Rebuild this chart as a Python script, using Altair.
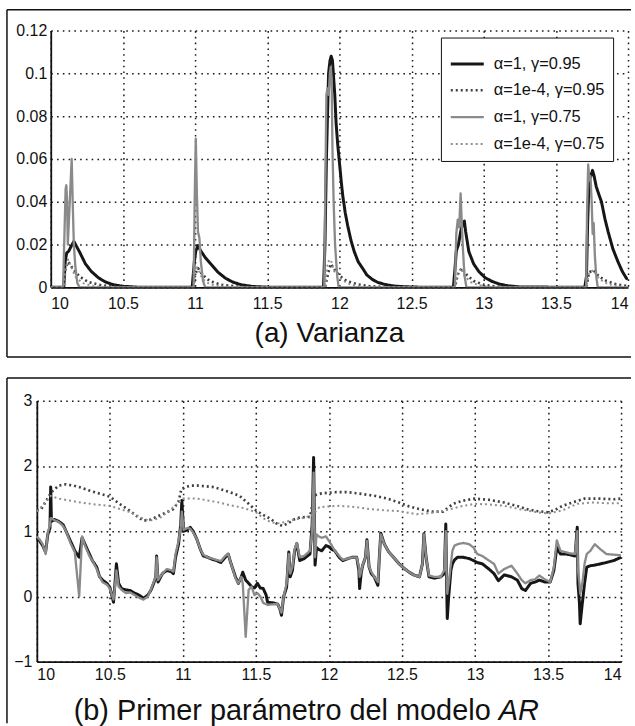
import altair as alt
import pandas as pd

SERIES = ["α=1, γ=0.95", "α=1e-4, γ=0.95", "α=1, γ=0.75", "α=1e-4, γ=0.75"]
COLORS = ["#161616", "#404040", "#8a8a8a", "#8f8f8f"]
DASHES = [[1, 0], [2, 3], [1, 0], [2, 3]]
WIDTHS = [3.0, 2.0, 3.6, 2.0]

X_TICKS = [10, 10.5, 11, 11.5, 12, 12.5, 13, 13.5, 14]
VAR_TICKS = [0, 0.02, 0.04, 0.06, 0.08, 0.1, 0.12]
AR_TICKS = [-1, 0, 1, 2, 3]

TITLE_A = "(a) Varianza"
TITLE_B = "(b) Primer parámetro del modelo"
TITLE_B_IT = "AR"

# ---------- (a) Varianza ----------
var_a_x = [10.0, 10.09, 10.1, 10.11, 10.125, 10.14, 10.16, 10.18, 10.2, 10.24, 10.28, 10.33, 10.38, 10.43, 10.5, 10.6,
           10.98, 10.995, 11.005, 11.02, 11.04, 11.07, 11.115, 11.16, 11.21, 11.26, 11.32, 11.4, 11.5,
           11.89, 11.9, 11.91, 11.925, 11.935, 11.943, 11.952, 11.96, 11.968, 11.977, 11.988, 12.0, 12.012, 12.023,
           12.04, 12.057, 12.08, 12.103, 12.13, 12.16, 12.19, 12.23, 12.27, 12.32, 12.38, 12.45, 12.55,
           12.79, 12.8, 12.81, 12.825, 12.84, 12.855, 12.866, 12.875, 12.897, 12.93, 12.966, 13.01, 13.057, 13.11,
           13.17, 13.25, 13.7, 13.712, 13.72, 13.73, 13.742, 13.754, 13.765, 13.78, 13.8, 13.816, 13.84, 13.862,
           13.895, 13.93, 13.96, 13.988, 14.0]
var_a_y = [0, 0, 0.012, 0.016, 0.017, 0.019, 0.0215, 0.019, 0.0165, 0.011, 0.0075, 0.0045, 0.0025, 0.0013, 0.0005, 0.0001,
           0, 0.012, 0.017, 0.0195, 0.017, 0.014, 0.0105, 0.007, 0.0043, 0.0025, 0.0012, 0.0004, 0.0001,
           0, 0.02, 0.06, 0.1, 0.106, 0.108, 0.106, 0.098, 0.09, 0.077, 0.067, 0.0586, 0.05, 0.043,
           0.035, 0.029, 0.022, 0.0167, 0.012, 0.009, 0.0058, 0.0036, 0.0022, 0.0013, 0.0006, 0.0003, 0.0001,
           0, 0.008, 0.017, 0.02, 0.026, 0.03, 0.031, 0.026, 0.0167, 0.011, 0.0074, 0.0045, 0.0028, 0.0015,
           0.0007, 0.0002, 0, 0.005, 0.03, 0.05, 0.052, 0.0547, 0.052, 0.047, 0.043, 0.04, 0.032, 0.026,
           0.018, 0.012, 0.0075, 0.0043, 0.0038]

var_b_x = [10.0, 10.09, 10.1, 10.12, 10.15, 10.2, 10.26, 10.35, 10.45, 10.55,
           10.99, 11.0, 11.02, 11.05, 11.1, 11.18, 11.3, 11.4,
           11.9, 11.92, 11.94, 11.97, 12.0, 12.05, 12.12, 12.2, 12.3, 12.4,
           12.8, 12.82, 12.85, 12.88, 12.93, 13.0, 13.1, 13.2,
           13.71, 13.73, 13.76, 13.8, 13.85, 13.92, 14.0]
var_b_y = [0, 0, 0.008, 0.012, 0.009, 0.005, 0.0025, 0.001, 0.0003, 0,
           0, 0.006, 0.009, 0.006, 0.003, 0.0012, 0.0003, 0,
           0, 0.006, 0.011, 0.008, 0.0055, 0.003, 0.0015, 0.0006, 0.0002, 0,
           0, 0.006, 0.009, 0.006, 0.003, 0.0012, 0.0003, 0,
           0, 0.007, 0.008, 0.005, 0.003, 0.0014, 0.0006]

var_c_x = [10.0, 10.085, 10.095, 10.103, 10.108, 10.113, 10.118, 10.125, 10.135, 10.145, 10.152, 10.16, 10.17, 10.184, 10.2,
           10.99, 10.997, 11.005, 11.012, 11.02, 11.03, 11.04, 11.055, 11.07,
           11.895, 11.903, 11.91, 11.918, 11.926, 11.934, 11.94, 11.946, 11.952, 11.96, 11.97, 11.985, 11.995,
           12.8, 12.81, 12.82, 12.83, 12.84, 12.848, 12.856, 12.866, 12.88,
           13.71, 13.716, 13.724, 13.732, 13.74, 13.748, 13.755, 13.762, 13.77, 13.78, 13.79, 14.0]
var_c_y = [0, 0, 0.025, 0.046, 0.0477, 0.04, 0.02, 0.03, 0.045, 0.06, 0.04, 0.02, 0.01, 0.002, 0,
           0, 0.04, 0.0695, 0.045, 0.026, 0.023, 0.012, 0.003, 0,
           0, 0.05, 0.09, 0.093, 0.09, 0.1, 0.103, 0.098, 0.065, 0.04, 0.02, 0.005, 0,
           0, 0.025, 0.0316, 0.028, 0.0439, 0.03, 0.018, 0.006, 0,
           0, 0.035, 0.0574, 0.05, 0.052, 0.04, 0.025, 0.03, 0.015, 0.005, 0, 0]

var_d_x = [10.0, 10.09, 10.1, 10.12, 10.14, 10.17, 10.22, 10.3, 10.4,
           10.99, 11.0, 11.02, 11.05, 11.1, 11.2, 11.3,
           11.9, 11.92, 11.94, 11.96, 11.99, 12.03, 12.08, 12.15, 12.25,
           12.8, 12.82, 12.84, 12.87, 12.92, 13.0, 13.1,
           13.71, 13.73, 13.76, 13.8, 13.86, 13.95, 14.0]
var_d_y = [0, 0, 0.008, 0.013, 0.01, 0.005, 0.002, 0.0005, 0,
           0, 0.01, 0.009, 0.004, 0.0015, 0.0003, 0,
           0, 0.012, 0.013, 0.008, 0.005, 0.003, 0.0012, 0.0003, 0,
           0, 0.006, 0.009, 0.005, 0.002, 0.0005, 0,
           0, 0.007, 0.008, 0.004, 0.0015, 0.0004, 0]

# ---------- (b) Primer parámetro AR ----------
ar_a_x = [10.0, 10.02, 10.04, 10.06, 10.075, 10.09, 10.095, 10.1, 10.12, 10.15, 10.18, 10.2, 10.23, 10.26, 10.29,
          10.31, 10.33, 10.36, 10.38, 10.41, 10.43, 10.45, 10.48, 10.5, 10.525, 10.535, 10.545, 10.56, 10.58,
          10.61, 10.64, 10.67, 10.7, 10.73, 10.76, 10.78, 10.8, 10.815, 10.82, 10.83, 10.86, 10.89, 10.92,
          10.935, 10.95, 10.97, 10.985, 10.993, 11.005, 11.03, 11.05, 11.07, 11.095, 11.12, 11.14, 11.17,
          11.2, 11.23, 11.26, 11.29, 11.31, 11.33, 11.36, 11.38, 11.4, 11.41, 11.43, 11.45, 11.47, 11.49,
          11.51, 11.53, 11.55, 11.57, 11.58, 11.62, 11.65, 11.665, 11.675, 11.69, 11.71, 11.725, 11.735,
          11.75, 11.765, 11.78, 11.8, 11.83, 11.87, 11.885, 11.895, 11.905, 11.915, 11.93, 11.95, 11.98,
          12.0, 12.02, 12.04, 12.07, 12.095, 12.13, 12.16, 12.19, 12.205, 12.21, 12.22, 12.23, 12.25, 12.26,
          12.275, 12.29, 12.31, 12.335, 12.345, 12.355, 12.38, 12.41, 12.45, 12.48, 12.52, 12.55, 12.58,
          12.62, 12.64, 12.65, 12.665, 12.685, 12.72, 12.765, 12.79, 12.8, 12.805, 12.81, 12.82, 12.835,
          12.845, 12.86, 12.88, 12.92, 12.96, 12.99, 13.015, 13.05, 13.095, 13.13, 13.16, 13.2, 13.25, 13.29,
          13.32, 13.345, 13.38, 13.41, 13.44, 13.48, 13.515, 13.54, 13.56, 13.585, 13.62, 13.65, 13.685,
          13.7, 13.705, 13.715, 13.72, 13.735, 13.75, 13.765, 13.79, 13.82, 13.86, 13.9, 13.95, 14.0]
ar_a_y = [0.9, 0.85, 0.78, 0.68, 0.95, 1.05, 1.68, 1.15, 1.18, 1.15, 1.1, 1.0, 0.85, 0.7, 0.6,
          0.9, 0.8, 0.65, 0.55, 0.45, 0.3, 0.25, 0.2, 0.14, -0.09, 0.2, 0.5, 0.2, 0.12,
          0.1, 0.09, 0.05, 0.02, -0.03, 0.02, 0.09, 0.2, 0.3, 0.62, 0.22, 0.35, 0.4, 0.38,
          0.35, 0.6, 0.8, 1.1, 1.47, 1.0, 1.02, 1.06, 1.0, 0.88, 0.72, 0.62, 0.6,
          0.57, 0.55, 0.52, 0.6, 0.65, 0.5, 0.3, 0.2, 0.3, 0.37, 0.25, 0.2, 0.15, 0.13,
          0.2, 0.13, 0.12, 0.02, -0.09, -0.1, -0.12, -0.2, -0.29, 0.0, 0.14, 0.68, 0.3,
          0.4, 0.7, 0.81, 0.55, 0.58, 0.65, 1.1, 2.13, 0.48, 0.75, 0.72, 0.7, 0.78,
          0.76, 0.72, 0.7, 0.6, 0.55, 0.58, 0.6, 0.6, 0.4, 0.12, 0.35, 0.47, 0.6, 0.87,
          0.45, 0.35, 0.3, 0.17, 0.6, 0.97, 0.8, 0.68, 0.58, 0.5, 0.42, 0.37, 0.33,
          0.3, 0.5, 0.96, 0.6, 0.3, 0.28, 0.3, 0.35, 1.11, 0.3, -0.34, 0.0, 0.4,
          0.5, 0.56, 0.6, 0.6, 0.58, 0.55, 0.52, 0.5, 0.42, 0.35, 0.24, 0.33, 0.3, 0.25,
          0.12, 0.09, 0.2, 0.22, 0.25, 0.22, 0.22, 0.4, 0.75, 0.65, 0.65, 0.64, 0.62,
          1.06, 0.2, -0.1, -0.42, -0.1, 0.2, 0.45, 0.47, 0.48, 0.5, 0.52, 0.55, 0.6]

ar_b_x = [10.0, 10.03, 10.06, 10.1, 10.15, 10.2, 10.25, 10.3, 10.35, 10.41, 10.5, 10.56, 10.62, 10.68, 10.73,
          10.78, 10.82, 10.88, 10.935, 10.97, 10.99, 11.05, 11.1, 11.2, 11.25, 11.32, 11.39, 11.45, 11.5,
          11.55, 11.6, 11.64, 11.68, 11.72, 11.76, 11.8, 11.87, 11.9, 11.95, 12.05, 12.12, 12.2, 12.32,
          12.4, 12.48, 12.55, 12.62, 12.7, 12.78, 12.85, 12.92, 13.0, 13.1, 13.2, 13.3, 13.35, 13.42,
          13.5, 13.55, 13.6, 13.68, 13.75, 13.85, 13.95, 14.0]
ar_b_y = [1.32, 1.34, 1.45, 1.6, 1.7, 1.72, 1.7, 1.67, 1.63, 1.59, 1.53, 1.43, 1.34, 1.24, 1.16,
          1.18, 1.22, 1.28, 1.34, 1.45, 1.65, 1.7, 1.7, 1.68, 1.65, 1.6, 1.54, 1.42, 1.32,
          1.25, 1.19, 1.12, 1.08, 1.12, 1.18, 1.21, 1.22, 1.55, 1.58, 1.6, 1.6, 1.58, 1.54,
          1.5, 1.44, 1.38, 1.34, 1.3, 1.3, 1.42, 1.47, 1.5, 1.48, 1.44, 1.38, 1.34, 1.31,
          1.29, 1.33, 1.39, 1.45, 1.5, 1.5, 1.49, 1.5]

ar_c_x = ar_a_x
ar_c_y = [0.92, 0.87, 0.8, 0.65, 0.98, 1.1, 1.2, 1.2, 1.17, 1.14, 1.08, 1.0, 0.82, 0.68, 0.0,
          0.92, 0.78, 0.62, 0.55, 0.42, 0.3, 0.22, 0.18, 0.12, -0.05, 0.15, 0.4, 0.15, 0.1,
          0.05, 0.06, 0.02, -0.02, -0.05, 0.0, 0.1, 0.22, 0.3, 0.6, 0.25, 0.35, 0.42, 0.4,
          0.38, 0.65, 0.85, 1.05, 1.3, 1.02, 1.05, 1.04, 0.98, 0.88, 0.72, 0.64, 0.6,
          0.58, 0.56, 0.54, 0.62, 0.65, 0.5, 0.28, 0.2, 0.3, 0.2, -0.62, 0.1, 0.15, 0.02,
          0.05, 0.0, -0.1, -0.12, -0.13, -0.12, -0.12, -0.2, -0.25, 0.0, 0.2, 0.65, 0.35,
          0.45, 0.72, 0.82, 0.6, 0.62, 0.7, 1.0, 1.9, 0.6, 0.95, 0.92, 0.9, 0.92,
          0.85, 0.78, 0.7, 0.62, 0.56, 0.58, 0.6, 0.6, 0.45, 0.3, 0.38, 0.48, 0.6, 0.85,
          0.45, 0.38, 0.3, 0.22, 0.6, 0.95, 0.8, 0.68, 0.58, 0.5, 0.42, 0.37, 0.33,
          0.3, 0.5, 0.95, 0.6, 0.32, 0.3, 0.3, 0.4, 1.0, 0.4, 0.04, 0.2, 0.5,
          0.7, 0.78, 0.8, 0.82, 0.8, 0.75, 0.65, 0.62, 0.55, 0.5, 0.35, 0.42, 0.47, 0.35,
          0.25, 0.2, 0.25, 0.26, 0.32, 0.26, 0.22, 0.45, 0.86, 0.7, 0.68, 0.66, 0.65,
          1.0, 0.4, 0.2, 0.04, 0.2, 0.5, 0.65, 0.7, 0.8, 0.72, 0.65, 0.64, 0.63]

ar_d_x = [10.0, 10.05, 10.095, 10.15, 10.2, 10.3, 10.4, 10.5, 10.57, 10.64, 10.7, 10.77, 10.84, 10.9, 10.95,
          11.0, 11.1, 11.2, 11.25, 11.32, 11.39, 11.45, 11.5, 11.55, 11.6, 11.65, 11.7, 11.77, 11.84, 11.89,
          11.935, 12.0, 12.07, 12.18, 12.28, 12.38, 12.48, 12.6, 12.7, 12.8, 12.9, 13.0, 13.1, 13.2, 13.3,
          13.4, 13.5, 13.6, 13.7, 13.8, 13.9, 14.0]
ar_d_y = [1.3, 1.42, 1.54, 1.5, 1.48, 1.44, 1.41, 1.39, 1.34, 1.29, 1.22, 1.16, 1.2, 1.3, 1.4,
          1.5, 1.5, 1.46, 1.44, 1.4, 1.37, 1.33, 1.29, 1.2, 1.14, 1.12, 1.14, 1.18, 1.21, 1.25,
          1.37, 1.38, 1.39, 1.37, 1.34, 1.32, 1.31, 1.26, 1.28, 1.32, 1.38, 1.42, 1.41, 1.39, 1.34,
          1.3, 1.27, 1.32, 1.42, 1.44, 1.43, 1.43]

FONT = "Liberation Sans"


def frame(xs, ys, name):
    return pd.DataFrame({"t": xs, "v": ys, "serie": name})


var_frames = [frame(var_a_x, var_a_y, SERIES[0]), frame(var_b_x, var_b_y, SERIES[1]),
              frame(var_c_x, var_c_y, SERIES[2]), frame(var_d_x, var_d_y, SERIES[3])]
ar_frames = [frame(ar_a_x, ar_a_y, SERIES[0]), frame(ar_b_x, ar_b_y, SERIES[1]),
             frame(ar_c_x, ar_c_y, SERIES[2]), frame(ar_d_x, ar_d_y, SERIES[3])]

axis_common = dict(
    grid=True, gridColor="#1a1a1a", gridDash=[1.6, 4.2], gridWidth=1.5, gridOpacity=1,
    ticks=False, domainColor="#111111", domainWidth=1.8,
    labelFont=FONT, labelFontSize=16, labelColor="#111111", title=None,
)

legend_top = alt.Legend(
    orient="none", legendX=392, legendY=7, title=None, symbolType="stroke", symbolSize=1100,
    labelFont=FONT, labelFontSize=16.5, labelColor="#111111", padding=8, labelOffset=8,
    strokeColor="#111111", fillColor="white", rowPadding=0,
)


def enc_channels(legend):
    kw = {"legend": legend}
    return dict(
        color=alt.Color("serie:N", scale=alt.Scale(domain=SERIES, range=COLORS), **kw),
        strokeDash=alt.StrokeDash("serie:N", scale=alt.Scale(domain=SERIES, range=DASHES), **kw),
        strokeWidth=alt.StrokeWidth("serie:N", scale=alt.Scale(domain=SERIES, range=WIDTHS), **kw),
    )


def one_row(**cols):
    return pd.DataFrame({k: [v] for k, v in cols.items()})


# ----- top panel -----
x_top = alt.X("t:Q", scale=alt.Scale(domain=[10, 14], nice=False, zero=False),
              axis=alt.Axis(values=X_TICKS, format="~g", labelPadding=8, **axis_common))
y_top = alt.Y("v:Q", scale=alt.Scale(domain=[0, 0.12], nice=False, zero=False),
              axis=alt.Axis(values=VAR_TICKS, format=".2~f", labelPadding=4, **axis_common))

top_layers = []
for df in var_frames:
    top_layers.append(
        alt.Chart(df).mark_line(strokeJoin="round", clip=True).encode(
            x=x_top, y=y_top, **enc_channels(legend_top)
        )
    )

box_top = [
    alt.Chart(one_row(k=1)).mark_rule(color="#111111", strokeWidth=1.5).encode(
        x=alt.value(-44), y=alt.value(-21), y2=alt.value(328)),
    alt.Chart(one_row(k=1)).mark_rule(color="#111111", strokeWidth=1.5).encode(
        x=alt.value(-44), x2=alt.value(583), y=alt.value(-21)),
    alt.Chart(one_row(k=1)).mark_rule(color="#111111", strokeWidth=1.5).encode(
        x=alt.value(-44), x2=alt.value(583), y=alt.value(328)),
]
title_top = alt.Chart(one_row(txt=TITLE_A)).mark_text(
    font=FONT, fontSize=28, color="#111111", align="center", baseline="middle"
).encode(text="txt:N", x=alt.value(280), y=alt.value(305))

top = alt.layer(*top_layers, *box_top, title_top).properties(width=580, height=258)

# ----- bottom panel -----
x_bot = alt.X("t:Q", scale=alt.Scale(domain=[10, 14], nice=False, zero=False, range=[-14, 573]),
              axis=alt.Axis(values=X_TICKS, format="~g", labelPadding=5, **axis_common))
y_bot = alt.Y("v:Q", scale=alt.Scale(domain=[-1, 3], nice=False, zero=False),
              axis=alt.Axis(values=AR_TICKS, format="~g", labelPadding=5, offset=14, **axis_common))

bot_layers = []
for df in ar_frames:
    bot_layers.append(
        alt.Chart(df).mark_line(strokeJoin="round").encode(
            x=x_bot, y=y_bot, **enc_channels(None)
        )
    )

box_bot = [
    alt.Chart(one_row(k=1)).mark_rule(color="#111111", strokeWidth=1.5).encode(
        x=alt.value(-44), y=alt.value(-23), y2=alt.value(324)),
    alt.Chart(one_row(k=1)).mark_rule(color="#111111", strokeWidth=1.5).encode(
        x=alt.value(-44), x2=alt.value(583), y=alt.value(-23)),
]
title_bot = alt.Chart(one_row(txt=TITLE_B)).mark_text(
    font=FONT, fontSize=29, color="#111111", align="right", baseline="middle"
).encode(text="txt:N", x=alt.value(442), y=alt.value(312))
title_bot_it = alt.Chart(one_row(txt=TITLE_B_IT)).mark_text(
    font=FONT, fontSize=29, color="#111111", align="left", baseline="middle", fontStyle="italic"
).encode(text="txt:N", x=alt.value(450), y=alt.value(312))

bottom = alt.layer(*bot_layers, *box_bot, title_bot, title_bot_it).properties(width=573, height=262)

chart = alt.vconcat(top, bottom, spacing=19).resolve_legend(
    color="independent", strokeDash="independent", strokeWidth="independent"
).properties(
    padding={"left": 6, "top": 7, "right": 0, "bottom": 0},
    background="white",
).configure_view(stroke=None)

chart.save("out.html", embed_options={"renderer": "svg", "actions": False})
